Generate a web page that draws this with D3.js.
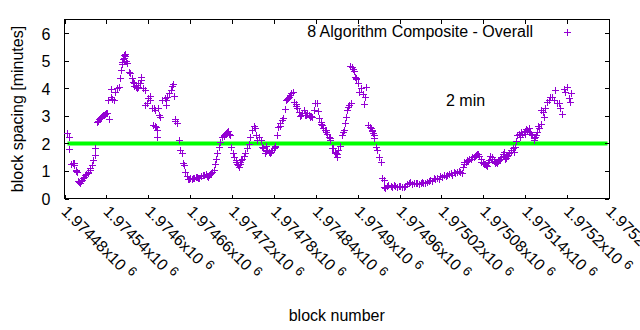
<!DOCTYPE html>
<html><head><meta charset="utf-8">
<script src="https://cdn.jsdelivr.net/npm/d3@7"></script>
<style>
body{margin:0;background:#fff}
svg{display:block}
text{font-family:"Liberation Sans",Arial,sans-serif;font-size:16px;fill:#000}
</style></head>
<body><svg id="chart" width="640" height="330"></svg>
<script>
const blocks = [
1974484,1974486,1974487,1974492,1974494,1974496,1974498,1974501,1974503,1974506,
1974510,1974513,1974516,1974519,1974521,1974523,1974524,1974526,1974529,1974532,
1974535,1974538,1974541,1974544,1974543,1974546,1974548,1974551,1974547,1974552,
1974555,1974558,1974559,1974561,1974563,1974564,1974565,1974567,1974570,1974572,
1974574,1974576,1974578,1974579,1974582,1974584,1974586,1974589,1974590,1974592,
1974595,1974596,1974598,1974600,1974602,1974603,1974606,1974607,1974608,1974610,
1974614,1974616,1974617,1974609,1974611,1974613,1974612,1974620,1974624,1974626,
1974627,1974625,1974630,1974632,1974634,1974636,1974637,1974638,1974639,1974641,
1974644,1974645,1974648,1974650,1974651,1974653,1974655,1974657,1974660,1974664,
1974668,1974671,1974675,1974678,1974682,1974686,1974689,1974691,1974694,1974695,
1974697,1974699,1974701,1974703,1974706,1974708,1974711,1974713,1974715,1974717,
1974719,1974721,1974723,1974725,1974727,1974730,1974732,1974734,1974737,1974739,
1974742,1974744,1974746,1974749,1974751,1974753,1974755,1974756,1974758,1974761,
1974763,1974765,1974768,1974767,1974770,1974773,1974775,1974777,1974780,1974782,
1974785,1974786,1974788,1974789,1974791,1974793,1974796,1974798,1974800,1974802,
1974805,1974807,1974809,1974811,1974813,1974816,1974818,1974820,1974823,1974825,
1974828,1974830,1974832,1974835,1974837,1974839,1974842,1974843,1974845,1974847,
1974849,1974851,1974854,1974856,1974859,1974861,1974863,1974865,1974867,1974869,
1974871,1974872,1974874,1974877,1974879,1974881,1974882,1974883,1974885,1974886,
1974888,1974890,1974889,1974892,1974894,1974896,1974898,1974900,1974902,1974905,
1974907,1974910,1974912,1974909,1974915,1974917,1974919,1974921,1974923,1974924,
1974926,1974928,1974931,1974934,1974935,1974937,1974938,1974942,1974947,1974952,
1974956,1974961,1974966,1974971,1974975,1974980,1974985,1974990,1974993,1974999,
1975004,1975009,1975014,1975018,1975023,1975028,1975033,1975038,1975042,1975047,
1975051,1975053,1975057,1975060,1975064,1975068,1975071,1975074,1975077,1975081,
1975084,1975087,1975090,1975093,1975096,1975100,1975103,1975106,1975109,1975111,
1975114,1975117,1975120,1975122,1975124,1975126,1975128,1975131,1975133,1975135,
1975138,1975140,1975143,1975145,1975147,1975150,1975152,1975154,1975157,1975159,
1975162,1975163,1975165,1975167,1975169,1975171,1975174,1975176,1975178,1975181,
1975183,1975186,1975188,1975190,1975193,1975195,1975197,1975200,1975202,1975205,
1975204,
1974939,1974944,1974949,1974954,1974959,1974964,1974968,1974973,1974978,1974983,
1974988,1974992,1974997,1975002,1975007,1975011,1975016,1975021,1975026,1975031,
1975035,1975040,1975045,1975049,1975052,1975055,1975058,1975062,1975066,1975070,
1975072,1975076,1975079,1975082,1975085,1975088,1975092,1975095,1975098,1975101,
1975104,1975108,1975110,1975113,1975115,1975119,1975127,1975132,1975134,1975139,
1975141,1975146,1975148,1975153,1975155,1975160,
1974499,1974502,1974505,1974508,1974511,1974514,1974517,1974490,1974493,1974496,
1974528,1974531,1974534,1974536,1974539,1974562,1974565,1974566,1974568,1974580,
1974583,1974585,1974588,
1974659,1974662,1974666,1974670,1974673,1974676,1974680,1974684,1974687,1974690,
1974709,1974712,1974714,1974716,1974726,1974729,1974731,1974733,
1974769,1974774,1974776,1974781,1974799,1974803,1974812,1974819,1974824,1974826,
1974831,1974833,1974848,1974853,1974855,1974860,
1974868,1974871,1974893,1974897,1974918,1974920,1974922
];
const spacing = [
2.39,2.22,1.78,1.29,1.21,1.03,0.95,0.60,0.63,0.73,
0.85,0.93,1.03,1.21,1.39,1.57,1.82,2.79,2.87,2.97,
3.03,3.07,3.09,2.87,3.57,3.67,3.60,3.57,3.96,3.88,
4.00,4.06,4.36,4.67,4.97,5.05,5.21,5.25,4.91,4.60,
4.55,4.36,4.24,4.18,4.06,4.00,4.18,4.30,4.42,4.00,
3.94,3.39,3.45,3.64,3.72,3.57,3.27,2.67,3.27,3.21,
3.27,3.03,2.97,2.63,2.58,2.48,2.22,3.57,3.64,3.57,
3.67,3.39,3.84,3.94,4.08,4.16,3.72,2.88,2.82,2.73,
2.12,1.76,1.64,1.29,1.21,0.97,0.81,0.69,0.73,0.76,
0.79,0.73,0.81,0.85,0.88,0.79,0.88,0.97,1.05,1.27,
1.42,1.64,1.88,2.06,2.22,2.27,2.34,2.42,2.36,2.30,
1.88,1.64,1.51,1.39,1.27,1.15,1.33,1.45,1.54,1.66,
1.82,1.97,2.24,2.48,2.63,2.55,2.30,2.12,2.22,2.12,
1.88,1.82,1.90,1.64,1.76,1.70,1.64,1.76,1.82,1.90,
2.30,2.60,2.73,2.63,2.85,2.91,3.24,3.57,3.64,3.70,
3.82,3.88,3.51,3.43,3.27,3.15,2.99,3.09,3.21,3.03,
3.11,3.03,2.97,2.95,3.21,3.45,3.48,3.19,2.91,2.79,
2.67,2.55,2.48,2.36,2.24,2.12,1.85,1.82,1.70,1.64,
1.51,1.76,1.90,2.30,2.42,2.48,2.73,2.97,3.21,3.31,
3.39,3.45,4.81,4.76,4.64,4.42,4.33,4.18,3.88,4.00,
3.79,3.67,4.06,3.43,2.67,2.60,2.55,2.46,2.30,2.18,
1.88,1.76,1.51,1.33,0.76,0.67,0.40,0.45,0.45,0.48,
0.42,0.46,0.42,0.51,0.60,0.55,0.55,0.57,0.55,0.60,
0.67,0.73,0.76,0.81,0.85,0.85,0.91,0.97,0.97,0.97,
1.15,1.33,1.39,1.42,1.49,1.54,1.61,1.54,1.33,1.27,
1.21,1.33,1.54,1.45,1.29,1.29,1.39,1.51,1.70,1.42,
1.54,1.64,1.76,1.82,1.70,1.88,2.30,2.36,2.30,2.36,
2.42,2.46,2.48,2.55,2.42,2.30,2.12,2.24,2.42,2.63,
2.70,3.21,3.15,2.97,3.27,3.51,3.57,3.70,3.67,3.57,
3.94,3.48,3.45,3.27,3.07,3.96,3.88,4.06,3.64,3.84,
3.51,
0.38,0.48,0.40,0.44,0.47,0.40,0.46,0.55,0.52,0.58,
0.52,0.60,0.55,0.64,0.62,0.70,0.72,0.78,0.80,0.88,
0.85,0.93,1.00,0.92,1.27,1.33,1.36,1.45,1.50,1.58,
1.60,1.42,1.30,1.25,1.18,1.40,1.50,1.35,1.33,1.36,
1.45,1.60,1.55,1.48,1.58,1.70,2.10,2.25,2.42,2.36,
2.52,2.40,2.36,2.20,2.30,2.55,
0.62,0.58,0.66,0.78,0.90,0.98,1.10,1.25,1.30,1.00,
2.82,2.92,3.00,3.05,3.10,4.90,5.10,5.18,5.00,4.10,
4.12,4.05,4.20,
0.72,0.70,0.75,0.77,0.76,0.80,0.84,0.82,0.85,0.92,
2.30,2.38,2.45,2.33,1.33,1.22,1.25,1.38,
1.72,1.66,1.70,1.86,3.60,3.75,3.35,3.05,3.10,3.05,
3.00,2.98,2.72,2.50,2.42,2.18,
1.66,1.60,4.70,4.38,2.58,2.50,2.38
];
const xTicks = [1974480,1974540,1974600,1974660,1974720,1974780,1974840,1974900,1974960,1975020,1975080,1975140,1975200,1975260];
const xTickLabels = ["1.97448","1.97454","1.9746","1.97466","1.97472","1.97478","1.97484","1.9749","1.97496","1.97502","1.97508","1.97514","1.9752","1.97526"];
const yTicks = [0,1,2,3,4,5,6];
const refValue = [2];
const refLabel = "2 min";
const seriesName = "8 Algorithm Composite - Overall";
const xTitle = "block number";
const yTitle = "block spacing [minutes]";

const svg = d3.select("#chart");
const L = 64.5, R = 609, T = 19.5, B = 198.5;
const x = d3.scaleLinear().domain([1974480, 1975260]).range([L, R]);
const y = d3.scaleLinear().domain([0, 6.5]).range([B, T]);
const purple = "#9400d3";

// reference line
svg.append("g").selectAll("line").data(refValue).join("line")
  .attr("x1", L + 3).attr("x2", R - 1.5)
  .attr("y1", d => y(d)).attr("y2", d => y(d))
  .attr("stroke", "#00ff00").attr("stroke-width", 4);

// ticks (inward, mirrored)
const tk = 4;
const gx = svg.append("g").attr("transform", `translate(0,${B})`)
  .call(d3.axisBottom(x).tickValues(xTicks).tickSize(-tk).tickFormat(""));
const gxt = svg.append("g").attr("transform", `translate(0,${T})`)
  .call(d3.axisTop(x).tickValues(xTicks).tickSize(-tk).tickFormat(""));
const gy = svg.append("g").attr("transform", `translate(${L},0)`)
  .call(d3.axisLeft(y).tickValues(yTicks).tickSize(-tk).tickFormat(d3.format("d")));
const gyr = svg.append("g").attr("transform", `translate(${R},0)`)
  .call(d3.axisRight(y).tickValues(yTicks).tickSize(-tk).tickFormat(""));
[gx, gxt, gy, gyr].forEach(g => {
  g.select(".domain").remove();
  g.selectAll("line").attr("stroke", "#000").attr("shape-rendering", "crispEdges");
});
gy.selectAll("text").attr("x", -14).attr("dy", "0.36em")
  .style("font-family", '"Liberation Sans",Arial,sans-serif').style("font-size", "16px").attr("fill", "#000");

// x tick labels rotated
const xl = svg.append("g").selectAll("text").data(xTicks).join("text")
  .attr("transform", d => `translate(${x(d) - 4},${B + 14}) rotate(45)`)
  .attr("text-anchor", "start");
xl.append("tspan").text((d, i) => xTickLabels[i] + "x10");
xl.append("tspan").attr("dx", 5).attr("dy", -5).style("font-size", "13px").text("6");

// border
svg.append("rect").attr("x", L).attr("y", T).attr("width", R - L).attr("height", B - T)
  .attr("fill", "none").attr("stroke", "#000").attr("shape-rendering", "crispEdges");

// points
const plus = "M-3.5,0H3.5M0,-3.5V3.5";
const pts = blocks.map((b, i) => [b, spacing[i]]);
svg.append("g").selectAll("path").data(pts).join("path")
  .attr("transform", d => `translate(${Math.round(x(d[0])) + 0.5},${Math.round(y(d[1])) + 0.5})`)
  .attr("d", plus)
  .attr("stroke", purple).attr("stroke-width", 1).attr("fill", "none")
  .attr("shape-rendering", "crispEdges");

// legend
svg.append("text").attr("x", 533).attr("y", 37).attr("text-anchor", "end").text(seriesName);
svg.append("path").attr("transform", "translate(567.5,32.5)").attr("d", plus)
  .attr("stroke", purple).attr("shape-rendering", "crispEdges");

// 2 min label
svg.append("text").attr("x", 446).attr("y", 106).text(refLabel);

// axis titles
svg.append("text").attr("x", (L + R) / 2).attr("y", 321).attr("text-anchor", "middle").text(xTitle);
svg.append("text").attr("transform", `translate(23,${(T + B) / 2}) rotate(-90)`)
  .attr("text-anchor", "middle").text(yTitle);
</script></body></html>
